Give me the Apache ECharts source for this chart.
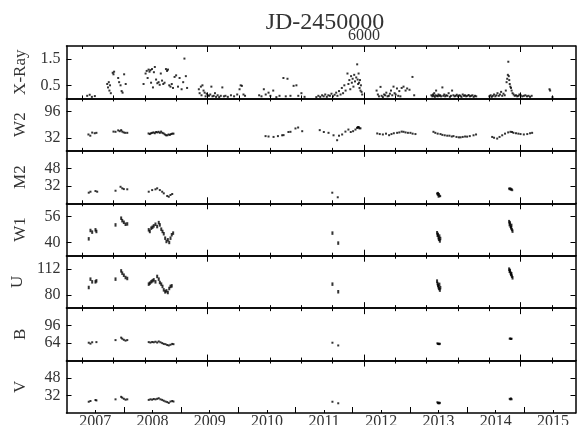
<!DOCTYPE html>
<html>
<head>
<meta charset="utf-8">
<script src="https://cdn.jsdelivr.net/npm/echarts@6/dist/echarts.min.js"></script>
<style>
  html, body { margin: 0; padding: 0; background: #fff; }
  #chart { width: 577px; height: 425px; }
</style>
</head>
<body>
<div id="chart"></div>
<script>
// Time axis is JD-2450000; the bottom axis shows calendar years on the same scale.
const jdMin = 4100;
const jdMax = 7350;
const bandNames = ['X-Ray', 'W2', 'M2', 'W1', 'U', 'B', 'V'];
const yRanges = [[0, 2], [0, 128], [16, 64], [32, 64], [64, 128], [32, 128], [16, 64]];
const yTickValues = [[0.5, 1.5], [32, 96], [32, 48], [40, 56], [80, 112], [64, 96], [32, 48]];
const jdMinorTicks = [4200, 4400, 4600, 4800, 5000, 5200, 5400, 5600, 5800, 6000, 6200, 6400, 6600, 6800, 7000, 7200];
const jdMajorTicks = [5000, 6000, 7000];
const jdLabelTicks = [6000];
const yearLabels = [2007, 2008, 2009, 2010, 2011, 2012, 2013, 2014, 2015];

// X-ray count rate
const xray = [
  [4232,0.10],[4248,0.14],[4262,0.06],[4281,0.09],
  [4360,0.55],[4365,0.42],[4370,0.62],[4374,0.30],[4378,0.50],[4383,0.20],[4395,0.98],[4400,0.92],[4404,1.02],
  [4430,0.78],[4436,0.62],[4445,0.50],[4452,0.28],[4458,0.22],[4468,0.92],[4478,0.55],
  [4592,0.55],[4605,0.95],[4612,1.05],[4618,0.78],[4624,1.10],[4630,1.02],[4636,1.08],[4640,0.60],[4646,1.12],
  [4652,0.42],[4658,1.00],[4664,1.20],[4672,0.72],[4680,0.58],[4688,0.62],[4695,0.52],[4702,0.95],[4710,0.68],
  [4718,0.55],[4726,0.60],[4735,1.12],[4742,1.05],[4748,1.10],[4756,0.50],[4764,0.45],[4772,0.55],[4780,0.40],
  [4790,0.82],[4800,0.88],[4812,0.45],[4822,0.78],[4835,0.35],[4845,0.62],[4853,1.52],[4862,0.85],[4870,0.40],
  [4945,0.35],[4950,0.20],[4958,0.45],[4962,0.12],[4968,0.50],[4975,0.30],[4982,0.22],[4988,0.08],[4995,0.18],
  [5002,0.12],[5010,0.10],[5018,0.15],[5025,0.45],[5032,0.08],[5040,0.10],[5048,0.20],[5055,0.06],[5065,0.12],
  [5075,0.05],[5085,0.10],[5095,0.42],[5105,0.08],[5115,0.10],[5130,0.06],[5150,0.12],[5170,0.08],[5190,0.15],
  [5205,0.35],[5212,0.50],[5220,0.48],[5230,0.15],[5240,0.10],
  [5330,0.12],[5345,0.08],[5360,0.35],[5372,0.15],[5390,0.22],[5402,0.10],[5420,0.30],[5440,0.05],[5460,0.10],
  [5485,0.78],[5500,0.08],[5511,0.75],[5530,0.10],[5550,0.48],[5568,0.50],[5580,0.10],[5600,0.20],[5620,0.06],
  [5695,0.05],[5708,0.10],[5720,0.06],[5732,0.12],[5742,0.08],[5752,0.15],[5762,0.06],[5772,0.12],[5782,0.10],
  [5792,0.18],[5802,0.08],[5812,0.14],[5822,0.22],[5830,0.10],[5840,0.28],[5850,0.15],[5858,0.40],[5866,0.20],
  [5874,0.50],[5882,0.30],[5894,0.95],[5900,0.55],[5906,0.70],[5912,0.35],[5917,0.85],[5922,0.60],[5927,0.75],
  [5932,0.45],[5937,0.90],[5942,0.65],[5950,0.80],[5956,1.30],[5959,0.72],[5962,0.55],[5965,0.95],[5968,0.60],
  [5971,0.40],[5974,0.70],[5977,0.30],[5980,0.50],[5984,0.25],[5988,0.15],
  [6080,0.30],[6088,0.15],[6095,0.08],[6105,0.44],[6112,0.10],[6120,0.05],[6128,0.15],[6135,0.12],[6142,0.22],
  [6150,0.08],[6158,0.10],[6165,0.18],[6172,0.30],[6180,0.12],[6188,0.45],[6195,0.20],[6202,0.15],[6210,0.38],
  [6218,0.10],[6225,0.28],[6232,0.08],[6240,0.40],[6252,0.45],[6265,0.30],[6275,0.38],[6290,0.33],[6309,0.82],
  [6320,0.12],
  [6430,0.12],[6436,0.08],[6440,0.15],[6444,0.10],[6448,0.20],[6452,0.06],[6456,0.12],[6460,0.30],[6465,0.10],
  [6470,0.08],[6475,0.15],[6480,0.10],[6486,0.12],[6492,0.08],[6500,0.42],[6506,0.10],[6512,0.15],[6518,0.08],
  [6525,0.12],[6532,0.10],[6540,0.20],[6548,0.06],[6555,0.10],[6562,0.30],[6570,0.12],[6578,0.08],[6585,0.10],
  [6592,0.14],[6600,0.08],[6608,0.12],[6615,0.10],[6622,0.06],[6630,0.15],[6638,0.10],[6645,0.12],[6652,0.08],
  [6660,0.10],[6668,0.13],[6676,0.08],[6684,0.10],[6692,0.12],[6700,0.06],[6708,0.10],[6716,0.08],
  [6800,0.08],[6808,0.12],[6815,0.06],[6822,0.10],[6830,0.15],[6838,0.08],[6845,0.12],[6852,0.20],[6860,0.10],
  [6868,0.15],[6875,0.25],[6882,0.10],[6890,0.18],[6898,0.12],[6905,0.30],[6910,0.62],[6914,0.75],[6918,0.90],
  [6921,1.40],[6924,0.85],[6927,0.70],[6930,0.55],[6934,0.45],[6938,0.40],[6942,0.30],[6948,0.20],[6955,0.15],
  [6962,0.10],[6970,0.12],[6978,0.08],[6985,0.10],[6992,0.15],[7000,0.12],[7010,0.08],[7020,0.10],[7030,0.12],
  [7040,0.08],[7050,0.10],[7060,0.06],[7070,0.10],
  [7184,0.35],[7188,0.30],[7203,0.05]
];

// UVOT W2 flux
const w2 = [
  [4240,40],[4252,37],[4264,44.6],[4280,43],[4291,44],
  [4400,47],[4413,46.5],[4430,50],[4440,48],[4449,50.6],[4456,47],[4465,45],[4475,44],[4488,44],
  [4624,42.5],[4632,41],[4640,43],[4648,44],[4656,45],[4664,43],[4672,46],[4680,45],[4688,46.5],[4696,44],
  [4704,47],[4712,44],[4720,42.5],[4728,40],[4736,38],[4744,38],[4752,40],[4760,39],[4768,41],[4776,42],[4783,42],
  [5371,36],[5390,35],[5422,34],[5450,36],[5477,38],[5486,38.4],[5517,46],[5530,46.5],[5562,54.7],[5579,57],[5605,48],
  [5717,50.6],[5743,46],[5773,44],[5805,38],[5828,26],[5840,37],[5860,40],[5881,47],[5900,52],[5915,46],
  [5930,48],[5945,52],[5955,56],[5960,58],[5963,57],[5966,58],[5970,55],[5977,55],
  [6084,42.5],[6100,41],[6120,40],[6140,42],[6160,38.3],[6175,41],[6190,43],[6211,44],[6225,45],[6240,47],
  [6252,46.5],[6265,45],[6280,44],[6296,44],[6310,42],[6328,41],
  [6443,46.5],[6455,44],[6470,42],[6488,41],[6500,39],[6515,38],[6531,37],[6545,37],[6560,35],[6571,36],
  [6590,34],[6605,33],[6616,33],[6630,34],[6645,35],[6658,34.7],[6675,36],[6699,38],[6715,40],
  [6818,34],[6830,32],[6850,30],[6865,34],[6882,38],[6900,42],[6920,45],[6935,46.5],[6945,46],[6954,44],
  [6970,43],[6985,42],[6999,41],[7020,40],[7042,41],[7060,43],[7073,44]
];

// UVOT M2 flux
const m2 = [
  [4242,25.7],[4253,26.6],[4285,27.2],[4296,26.6],
  [4413,27.5],[4445,31.1],[4456,29.7],[4466,29.0],[4488,28.8],
  [4625,26.6],[4647,28.1],[4668,28.8],[4679,29.7],[4696,28.1],[4711,26.6],[4721,25.1],[4743,22.7],[4753,22.0],
  [4764,23.6],[4775,24.5],
  [5797,25.7],[5832,21.5],
  [6466,25],[6470,24],[6472,25.5],[6474,23.5],[6476,22],[6478,24.5],[6482,23],[6486,22.5],
  [6926,29.5],[6930,28.8],[6934,29.7],[6938,28.5],[6942,29],[6946,28]
];

// UVOT W1 flux
const w1 = [
  [4242,42.3],[4253,47.4],[4264,46.4],[4285,47.8],[4291,46.8],
  [4413,50.8],[4449,54.9],[4456,53.4],[4466,52.4],[4477,51.2],[4488,51.4],
  [4625,47.8],[4632,46.8],[4641,48.8],[4649,49.4],[4657,50.2],[4668,51.2],[4679,49.8],[4689,52.2],[4696,50.8],
  [4705,48.2],[4713,46.8],[4721,45.4],[4730,42.7],[4738,40.7],[4747,41.7],[4756,40.1],[4764,42.7],[4772,44.8],[4781,45.8],
  [5798,45.8],[5835,39.7],
  [6466,46],[6469,44.5],[6472,45],[6475,43],[6478,42],[6481,44],[6484,41],[6487,42.5],
  [6926,52.8],[6929,51],[6932,52],[6935,50],[6938,49],[6941,50.5],[6944,48],[6948,47]
];

// UVOT U flux
const uBand = [
  [4242,89.2],[4253,99.4],[4264,96.1],[4285,96.1],[4291,97.3],
  [4413,99.4],[4449,109.5],[4456,106.7],[4466,104.2],[4477,101.4],[4488,100.2],
  [4625,93.3],[4632,94.5],[4641,96.1],[4649,97.3],[4657,98.5],[4668,96.1],[4679,102.7],[4689,99.4],[4696,95.3],
  [4705,93.3],[4713,90.5],[4721,86.3],[4730,83.9],[4738,85.1],[4747,83.1],[4756,88],[4764,90.5],[4772,91.2],
  [5798,93.3],[5835,84],
  [6466,97],[6469,94],[6472,92],[6475,90],[6478,88],[6481,93],[6484,86],[6487,89],
  [6926,111.6],[6929,109],[6932,110],[6935,107],[6938,105],[6941,106],[6944,103],[6948,101]
];

// UVOT B flux
const bBand = [
  [4242,64.7],[4253,63],[4264,65.5],[4291,65.8],
  [4413,69.5],[4449,74],[4456,72],[4466,70],[4477,68.5],[4488,69.5],
  [4625,65.8],[4636,65],[4647,66],[4657,65.5],[4668,66.5],[4679,65],[4689,67],[4700,65.5],[4711,64],[4721,62.5],
  [4732,62],[4743,60.5],[4753,59.7],[4764,61],[4775,62.5],[4783,62],
  [5798,64.7],[5835,59.7],
  [6468,63.5],[6472,62.5],[6476,63],[6480,62],[6484,62.8],
  [6930,72],[6934,72.5],[6938,71.5],[6942,72]
];

// UVOT V flux
const vBand = [
  [4242,26.3],[4253,27],[4285,27.9],[4291,27.5],
  [4413,28.5],[4449,30.8],[4456,30],[4466,29],[4477,28.2],[4488,28.5],
  [4625,28],[4636,28.5],[4647,28.2],[4657,28.8],[4668,28.5],[4679,29],[4689,29.5],[4700,28.5],[4711,28],[4721,27.2],
  [4732,26.5],[4743,26],[4753,25.2],[4764,26.5],[4775,27],[4783,26.5],
  [5798,26.3],[5835,24.9],
  [6468,25.8],[6472,25],[6476,25.5],[6480,24.8],[6484,25.3],
  [6930,29],[6934,28.5],[6938,29.3],[6942,28.6]
];

const bandData = [xray, w2, m2, w1, uBand, bBand, vBand];
const bandSymbolSize = [[2, 2], [2, 2], [2, 2], [2, 3.5], [2, 3.5], [2, 2], [2, 2]];

// calendar year -> JD-2450000
const yearToJd = y => 1544.5 + (y - 2000) * 365.25;
const jdToYear = j => 2000 + (j - 1544.5) / 365.25;
const yearStarts = yearLabels.slice(1).map(y => yearToJd(y));
const yearMids = yearLabels.map(y => yearToJd(y + 0.5));

const FONT = 'Liberation Serif';
const TEXT = '#333';
const LINE = '#000';

const plotTop = 46, plotBottom = 413;
const panelH = (plotBottom - plotTop) / bandNames.length;
const gridLeft = 66.5, gridRight = 1.5;

const grids = [], xAxes = [], yAxes = [], series = [];

function xAxisBase(gi, position, showLine) {
  return {
    gridIndex: gi, type: 'value', min: jdMin, max: jdMax, position: position,
    axisLine: { show: showLine, onZero: false, lineStyle: { color: LINE, width: 1.5 } },
    axisLabel: { show: false },
    splitLine: { show: false }
  };
}

bandNames.forEach((name, i) => {
  grids.push({
    left: gridLeft, right: gridRight, top: plotTop + i * panelH, height: panelH,
    containLabel: false, outerBoundsMode: 'none'
  });
  const last = i === bandNames.length - 1;

  // bottom edge
  const bottomIdx = xAxes.length;
  if (!last) {
    xAxes.push(Object.assign(xAxisBase(i, 'bottom', true), {
      axisTick: { show: true, inside: true, length: 3, customValues: jdMinorTicks, lineStyle: { color: LINE } }
    }));
    xAxes.push(Object.assign(xAxisBase(i, 'bottom', false), {
      axisTick: { show: true, inside: true, length: 6, customValues: jdMajorTicks, lineStyle: { color: LINE } }
    }));
  } else {
    xAxes.push(Object.assign(xAxisBase(i, 'bottom', true), {
      axisTick: { show: true, inside: true, length: 3, customValues: yearMids, lineStyle: { color: LINE } },
      axisLabel: {
        show: true, customValues: yearMids, margin: 1,
        fontFamily: FONT, fontSize: 16, color: TEXT,
        formatter: v => String(Math.floor(jdToYear(v)))
      }
    }));
    xAxes.push(Object.assign(xAxisBase(i, 'bottom', false), {
      axisTick: { show: true, inside: true, length: 6, customValues: yearStarts, lineStyle: { color: LINE } }
    }));
  }

  // top edge
  xAxes.push(Object.assign(xAxisBase(i, 'top', true), {
    axisTick: { show: true, inside: true, length: 3, customValues: jdMinorTicks, lineStyle: { color: LINE } }
  }));
  const topMajor = Object.assign(xAxisBase(i, 'top', false), {
    axisTick: { show: true, inside: true, length: 6, customValues: jdMajorTicks, lineStyle: { color: LINE } }
  });
  if (i === 0) {
    topMajor.axisLabel = {
      show: true, customValues: jdLabelTicks, margin: 2,
      fontFamily: FONT, fontSize: 16, color: TEXT,
      formatter: v => String(v)
    };
  }
  xAxes.push(topMajor);

  // left and right edges
  const leftIdx = yAxes.length;
  const yr = yRanges[i];
  yAxes.push({
    gridIndex: i, type: 'value', min: yr[0], max: yr[1], position: 'left',
    name: name, nameLocation: 'middle', nameGap: 37, nameRotate: 90,
    nameTextStyle: { fontFamily: FONT, fontSize: 17, color: TEXT },
    axisLine: { show: true, onZero: false, lineStyle: { color: LINE, width: 1.5 } },
    axisTick: { show: true, inside: true, length: 5, customValues: yTickValues[i], lineStyle: { color: LINE } },
    axisLabel: { show: true, customValues: yTickValues[i], margin: 6, fontFamily: FONT, fontSize: 16, color: TEXT },
    splitLine: { show: false }
  });
  yAxes.push({
    gridIndex: i, type: 'value', min: yr[0], max: yr[1], position: 'right',
    axisLine: { show: true, onZero: false, lineStyle: { color: LINE, width: 1.5 } },
    axisTick: { show: true, inside: true, length: 5, customValues: yTickValues[i], lineStyle: { color: LINE } },
    axisLabel: { show: false },
    splitLine: { show: false }
  });

  series.push({
    type: 'scatter', name: name, xAxisIndex: bottomIdx, yAxisIndex: leftIdx,
    data: bandData[i], symbol: 'rect', symbolSize: bandSymbolSize[i],
    itemStyle: { color: '#000' }, silent: true, animation: false
  });
});

const chart = echarts.init(document.getElementById('chart'), null, { renderer: 'canvas' });
chart.setOption({
  backgroundColor: '#fff',
  animation: false,
  title: {
    text: 'JD-2450000', left: 320, top: 6, textAlign: 'center',
    textStyle: { fontFamily: FONT, fontSize: 24, fontWeight: 'normal', color: TEXT }
  },
  grid: grids,
  xAxis: xAxes,
  yAxis: yAxes,
  series: series
});
</script>
</body>
</html>
